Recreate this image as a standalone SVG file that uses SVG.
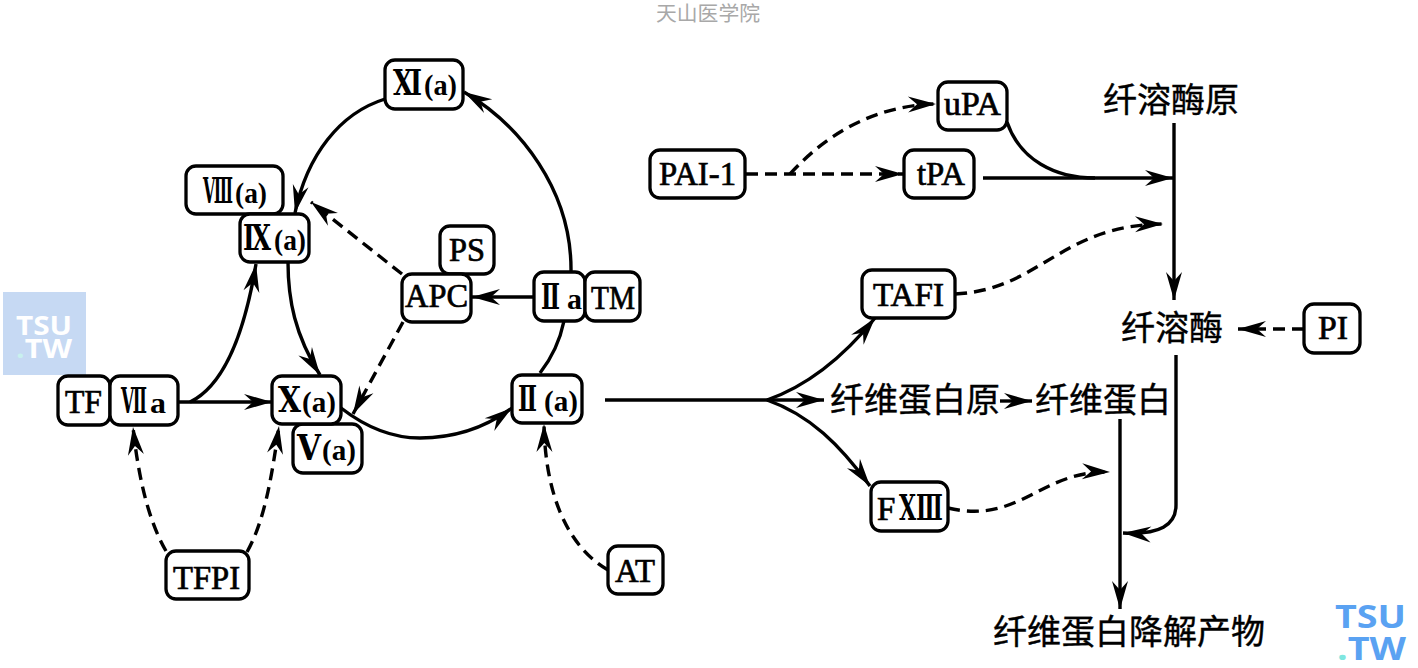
<svg xmlns="http://www.w3.org/2000/svg" width="1418" height="668" viewBox="0 0 1418 668">
<style>
.b{fill:#fff;stroke:#000;stroke-width:3.3}
.t{font-family:"Liberation Serif","Noto Sans CJK SC",serif;font-size:33px;fill:#000;stroke:#000;stroke-width:.7}
.r{font-family:"DejaVu Serif","Liberation Serif",serif;font-size:36px;font-weight:bold;stroke:none}
.p{font-size:30px;font-weight:bold;stroke:none}
.c{font-family:"Noto Sans CJK SC",sans-serif;font-size:34px;fill:#000;stroke:#000;stroke-width:.4;text-anchor:middle}
.l{fill:none;stroke:#000;stroke-width:3.4}
.d{stroke-dasharray:12 7}
.a{marker-end:url(#h)}
.w{font-family:"Open Sans","Liberation Sans",sans-serif;font-weight:bold}
</style>
<defs>
<marker id="h" markerUnits="userSpaceOnUse" markerWidth="30" markerHeight="18" refX="28" refY="8" orient="auto" overflow="visible">
<path d="M0,0 L28,8 L0,16 L9,8 z" fill="#000"/>
</marker>
</defs>
<rect width="1418" height="668" fill="#fff"/>
<text x="708" y="21" font-family="Noto Sans CJK SC,sans-serif" font-size="20.8" fill="#a8a8a8" text-anchor="middle">天山医学院</text>
<g id="watermark-left">
<rect x="3" y="292" width="83" height="83" fill="#c6d9f3"/>
<text class="w" x="16" y="335" font-size="26" fill="#fff" textLength="56" lengthAdjust="spacingAndGlyphs">TSU</text>
<text class="w" x="16" y="358" font-size="26" fill="#fff" textLength="56" lengthAdjust="spacingAndGlyphs"><tspan fill="#c8f0ee">.</tspan>TW</text>
</g>
<g id="watermark-right">
<text class="w" x="1335" y="628" font-size="32" fill="#5aa2f2" textLength="71" lengthAdjust="spacingAndGlyphs">TSU</text>
<text class="w" x="1337" y="660" font-size="32" fill="#5aa2f2" textLength="69" lengthAdjust="spacingAndGlyphs"><tspan fill="#7fe6e0">.</tspan>TW</text>
</g>
<g id="connectors">
<path class="l a" d="M385,99 C340,113 307,155 295,213"/>
<path class="l a" d="M571,272 C572,190 520,125 464,92"/>
<path class="l" d="M564,321 Q558,350 540,373"/>
<path class="l a" d="M534,297 L472,297"/>
<path class="l d a" d="M402,274 L311,202"/>
<path class="l d a" d="M403,322 L353,414"/>
<path class="l a" d="M341,408 C372,432 400,438 420,438 C455,438 485,428 512,408"/>
<path class="l a" d="M178,402 L272,402"/>
<path class="l a" d="M190,402 C225,385 245,330 256,264"/>
<path class="l a" d="M288,262 C288,300 295,335 320,375"/>
<path class="l d a" d="M166,551 C148,520 138,475 133,427"/>
<path class="l d a" d="M247,552 C265,520 272,475 279,426"/>
<path class="l d a" d="M608,570 C565,545 545,490 544,424"/>
<path class="l" d="M605,400 L770,400"/>
<path class="l a" d="M767,400 C810,385 845,355 875,318"/>
<path class="l a" d="M767,400 L824,400"/>
<path class="l a" d="M767,400 C810,415 840,445 870,486"/>
<path class="l a" d="M1000,401 L1032,401"/>
<path class="l d a" d="M746,174 L903,174"/>
<path class="l d a" d="M790,174 C830,130 880,105 936,104"/>
<path class="l a" d="M983,178 L1173,178"/>
<path class="l" d="M1007,122 C1020,160 1055,178 1095,178"/>
<path class="l d a" d="M955,294 C1040,290 1060,225 1163,224"/>
<path class="l a" d="M1174,123 L1174,300"/>
<path class="l a" d="M1176,355 L1176,505 C1176,525 1160,535 1123,533"/>
<path class="l d a" d="M1304,329 L1238,329"/>
<path class="l a" d="M1120,419 L1120,609"/>
<path class="l d a" d="M948,508 C1020,525 1040,470 1110,472"/>
</g>
<g id="n8"><rect class="b" x="186" y="166" width="97" height="48" rx="10"/><text class="t" y="203"><tspan class="r" x="203" textLength="30" lengthAdjust="spacingAndGlyphs">Ⅷ</tspan><tspan class="p" x="235" textLength="32" lengthAdjust="spacingAndGlyphs">(a)</tspan></text></g>
<g id="n9"><rect class="b" x="240" y="214" width="69" height="48" rx="10"/><text class="t" y="250"><tspan class="r" x="243" textLength="28" lengthAdjust="spacingAndGlyphs">Ⅸ</tspan><tspan class="p" x="274" textLength="32" lengthAdjust="spacingAndGlyphs">(a)</tspan></text></g>
<g id="n11"><rect class="b" x="385" y="60" width="78" height="49" rx="10"/><text class="t" y="95"><tspan class="r" x="393" textLength="29" lengthAdjust="spacingAndGlyphs">Ⅺ</tspan><tspan class="p" x="424" textLength="33" lengthAdjust="spacingAndGlyphs">(a)</tspan></text></g>
<g id="tf"><rect class="b" x="58" y="376" width="52" height="49" rx="10"/><text class="t" x="65" y="413" textLength="37" lengthAdjust="spacingAndGlyphs">TF</text></g>
<g id="n7a"><rect class="b" x="110" y="376" width="68" height="49" rx="10"/><text class="t" y="413"><tspan class="r" x="121" textLength="26" lengthAdjust="spacingAndGlyphs">Ⅶ</tspan><tspan class="p" x="150" textLength="16" lengthAdjust="spacingAndGlyphs">a</tspan></text></g>
<g id="n5"><rect class="b" x="293" y="424" width="69" height="49" rx="10"/><text class="t" y="460"><tspan class="r" x="297" textLength="24" lengthAdjust="spacingAndGlyphs">Ⅴ</tspan><tspan class="p" x="322" textLength="34" lengthAdjust="spacingAndGlyphs">(a)</tspan></text></g>
<g id="n10"><rect class="b" x="272" y="376" width="69" height="48" rx="10"/><text class="t" y="412"><tspan class="r" x="278" textLength="23" lengthAdjust="spacingAndGlyphs">Ⅹ</tspan><tspan class="p" x="302" textLength="34" lengthAdjust="spacingAndGlyphs">(a)</tspan></text></g>
<g id="tfpi"><rect class="b" x="166" y="551" width="83" height="48" rx="10"/><text class="t" x="173" y="589" textLength="67" lengthAdjust="spacingAndGlyphs">TFPI</text></g>
<g id="ps"><rect class="b" x="440" y="226" width="54" height="48" rx="10"/><text class="t" x="449" y="261" textLength="36" lengthAdjust="spacingAndGlyphs">PS</text></g>
<g id="apc"><rect class="b" x="402" y="274" width="69" height="48" rx="10"/><text class="t" x="405" y="307" textLength="63" lengthAdjust="spacingAndGlyphs">APC</text></g>
<g id="n2a"><rect class="b" x="534" y="272" width="51" height="49" rx="10"/><text class="t" y="309"><tspan class="r" x="541" textLength="19" lengthAdjust="spacingAndGlyphs">Ⅱ</tspan><tspan class="p" x="567" textLength="15" lengthAdjust="spacingAndGlyphs">a</tspan></text></g>
<g id="tm"><rect class="b" x="585" y="272" width="55" height="49" rx="10"/><text class="t" x="591" y="309" textLength="44" lengthAdjust="spacingAndGlyphs">TM</text></g>
<g id="n2"><rect class="b" x="512" y="375" width="70" height="48" rx="10"/><text class="t" y="411"><tspan class="r" x="518" textLength="19" lengthAdjust="spacingAndGlyphs">Ⅱ</tspan><tspan class="p" x="544" textLength="34" lengthAdjust="spacingAndGlyphs">(a)</tspan></text></g>
<g id="at"><rect class="b" x="608" y="546" width="55" height="48" rx="10"/><text class="t" x="615" y="582" textLength="40" lengthAdjust="spacingAndGlyphs">AT</text></g>
<g id="pai1"><rect class="b" x="650" y="150" width="95" height="48" rx="10"/><text class="t" x="659" y="185" textLength="77" lengthAdjust="spacingAndGlyphs">PAI-1</text></g>
<g id="upa"><rect class="b" x="938" y="82" width="69" height="48" rx="10"/><text class="t" x="944" y="115" textLength="57" lengthAdjust="spacingAndGlyphs">uPA</text></g>
<g id="tpa"><rect class="b" x="904" y="150" width="70" height="48" rx="10"/><text class="t" x="917" y="185" textLength="48" lengthAdjust="spacingAndGlyphs">tPA</text></g>
<g id="tafi"><rect class="b" x="862" y="270" width="93" height="48" rx="10"/><text class="t" x="873" y="306" textLength="71" lengthAdjust="spacingAndGlyphs">TAFI</text></g>
<g id="pi"><rect class="b" x="1304" y="304" width="56" height="49" rx="10"/><text class="t" x="1318" y="339" textLength="30" lengthAdjust="spacingAndGlyphs">PI</text></g>
<g id="f13"><rect class="b" x="871" y="482" width="77" height="49" rx="10"/><text class="t" y="520"><tspan x="877">F </tspan><tspan class="r" x="899" textLength="44" lengthAdjust="spacingAndGlyphs">ⅩⅢ</tspan></text></g>
<g id="plasminogen"><text class="c" x="1171" y="112">纤溶酶原</text></g>
<g id="plasmin"><text class="c" x="1172" y="340">纤溶酶</text></g>
<g id="fibrinogen"><text class="c" x="915" y="412">纤维蛋白原</text></g>
<g id="fibrin"><text class="c" x="1103" y="412">纤维蛋白</text></g>
<g id="fdp"><text class="c" x="1129" y="644">纤维蛋白降解产物</text></g>
</svg>
